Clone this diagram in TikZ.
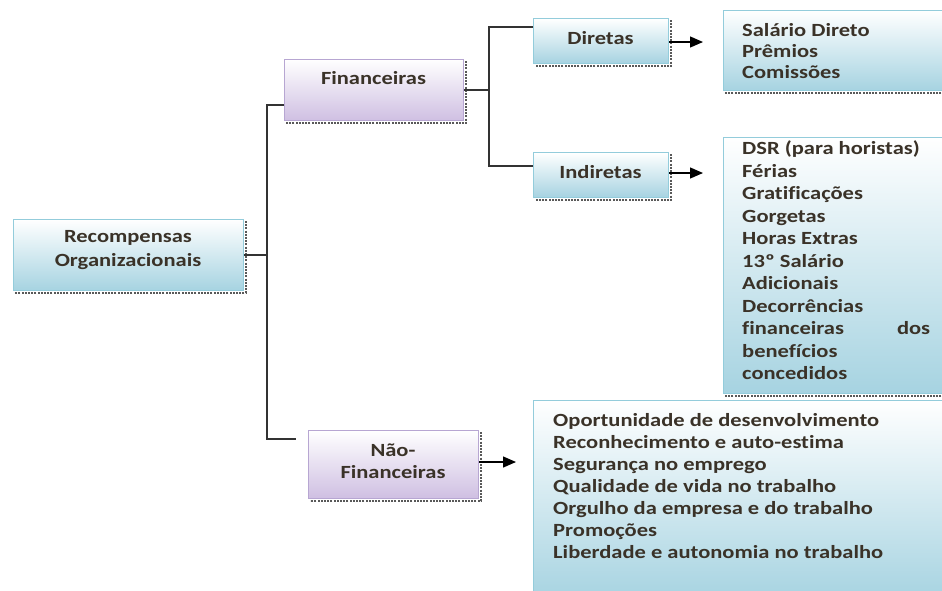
\documentclass[tikz,border=0pt]{standalone}
\usepackage{fontspec}
\setmainfont{Carlito}[FakeStretch=1.21, Ligatures=NoCommon]
\usetikzlibrary{arrows.meta}
\definecolor{txtc}{HTML}{3A3228}
\definecolor{bluebot}{HTML}{A6D3E1}
\definecolor{blueedge}{HTML}{93CCDB}
\definecolor{purpbot}{HTML}{CFBFE2}
\definecolor{purpedge}{HTML}{B7A6D2}
\definecolor{linec}{HTML}{333333}
\tikzset{
  bluebox/.style={rectangle, draw=blueedge, line width=1pt, top color=white, bottom color=bluebot, anchor=north west, inner sep=0pt},
  purpbox/.style={rectangle, draw=purpedge, line width=1pt, top color=white, bottom color=purpbot, anchor=north west, inner sep=0pt},
  txt/.style={text=txtc, font=\fontsize{18.6}{22}\selectfont\bfseries, inner sep=0pt},
  conn/.style={draw=linec, line width=1.4pt},
  arr/.style={draw=black, line width=1.3pt, -{Triangle[length=13pt,width=11pt]}},
  shd/.style={draw=gray!70!black, line width=1.6pt, dash pattern=on 2pt off 1.2pt}
}
\newcommand{\boxshadow}[1]{\draw[shd] ([shift={(2pt,-2pt)}]#1.north east) -- ([shift={(2pt,-2pt)}]#1.south east) -- ([shift={(2pt,-2pt)}]#1.south west);}
\begin{document}
\begin{tikzpicture}[x=1pt,y=-1pt]
\useasboundingbox (0,0) rectangle (942,590);
\clip (0,0) rectangle (942,590);
\fill[white] (0,0) rectangle (942,590);

% boxes
\node[bluebox, minimum width=230pt, minimum height=71pt] (rec) at (13,219) {};
\node[purpbox, minimum width=179pt, minimum height=61pt] (fin) at (284,59) {};
\node[purpbox, minimum width=170pt, minimum height=68pt] (nf) at (308,430) {};
\node[bluebox, minimum width=135pt, minimum height=45pt] (dir) at (533,18) {};
\node[bluebox, minimum width=135pt, minimum height=45pt] (ind) at (533,152) {};
\node[bluebox, minimum width=240pt, minimum height=80pt] (sal) at (723,10) {};
\node[bluebox, minimum width=240pt, minimum height=256pt] (dsr) at (723,137) {};
\node[bluebox, minimum width=420pt, minimum height=200pt] (nfl) at (533,400) {};

\foreach \b in {rec,fin,nf,dir,ind,sal,dsr,nfl} {\boxshadow{\b}}

% texts
\node[txt, align=center, font=\fontsize{18.6}{24.5}\selectfont\bfseries] (trec) at (128,250) {Recompensas\\Organizacionais};
\node[txt] (tfin) at (373.5,78) {Financeiras};
\node[txt, align=center] (tnf) at (393,461) {Não-\\Financeiras};
\node[txt] (tdir) at (600.5,38) {Diretas};
\node[txt] (tind) at (600.5,172) {Indiretas};
\node[txt, anchor=west, align=left, font=\fontsize{18.6}{21}\selectfont\bfseries] (tsal) at (742,51) {Salário Direto\\Prêmios\\Comissões};
\node[txt, anchor=west, text width=188pt, align=justify, font=\fontsize{18.6}{22.5}\selectfont\bfseries] (tdsr) at (742,260.5) {DSR (para horistas)\\Férias\\Gratificações\\Gorgetas\\Horas Extras\\13º Salário\\Adicionais\\Decorrências\\financeiras\hfill dos\\benefícios\\concedidos};
\node[txt, anchor=west, align=left] (tnfl) at (553,486) {Oportunidade de desenvolvimento\\Reconhecimento e auto-estima\\Segurança no emprego\\Qualidade de vida no trabalho\\Orgulho da empresa e do trabalho\\Promoções\\Liberdade e autonomia no trabalho};

% connectors
\coordinate (jtop) at (267,105);
\coordinate (jbot) at (267,439);
\coordinate (nfend) at (296,439);
\coordinate (jd) at (489,27);
\coordinate (ji) at (489,166);
\draw[conn] (rec.east) -- (rec.east -| jtop);
\draw[conn] (fin.west |- jtop) -- (jtop) -- (jbot) -- (nfend);
\draw[conn] (fin.east) -- (fin.east -| jd);
\draw[conn] (dir.west |- jd) -- (jd) -- (ji) -- (ind.west |- ji);

\coordinate (adir) at (703,42);
\coordinate (aind) at (703,173);
\coordinate (anf) at (516,462);
\draw[arr] (dir.east |- adir) -- (adir);
\draw[arr] (ind.east |- aind) -- (aind);
\draw[arr] (nf.east |- anf) -- (anf);
\end{tikzpicture}
\end{document}
